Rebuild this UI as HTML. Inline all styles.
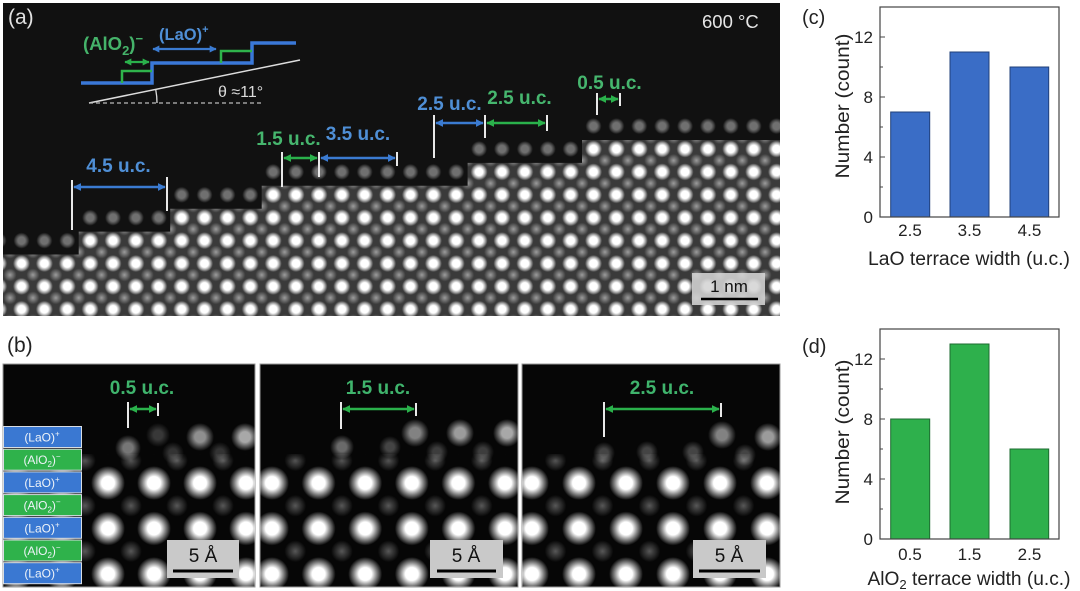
<!DOCTYPE html>
<html><head><meta charset="utf-8"><style>
html,body{margin:0;padding:0;background:#fff;}
svg{display:block;}
text{font-family:"Liberation Sans",Arial,sans-serif;}
</style></head><body>
<svg width="1080" height="591" viewBox="0 0 1080 591" xmlns="http://www.w3.org/2000/svg">
<defs>
  <radialGradient id="gb"><stop offset="0" stop-color="#fff" stop-opacity="1"/><stop offset="0.45" stop-color="#fff" stop-opacity="1"/><stop offset="0.72" stop-color="#fff" stop-opacity="0.55"/><stop offset="1" stop-color="#fff" stop-opacity="0"/></radialGradient>
  <radialGradient id="gd"><stop offset="0" stop-color="#fff" stop-opacity="0.5"/><stop offset="1" stop-color="#fff" stop-opacity="0"/></radialGradient>
  <radialGradient id="gbb"><stop offset="0" stop-color="#fff" stop-opacity="1"/><stop offset="0.38" stop-color="#fff" stop-opacity="1"/><stop offset="0.68" stop-color="#fff" stop-opacity="0.5"/><stop offset="1" stop-color="#fff" stop-opacity="0"/></radialGradient>
  <radialGradient id="gdb"><stop offset="0" stop-color="#fff" stop-opacity="0.33"/><stop offset="1" stop-color="#fff" stop-opacity="0"/></radialGradient>
  <linearGradient id="lgm" x1="0" y1="0" x2="0" y2="1"><stop offset="0" stop-color="#000"/><stop offset="0.027" stop-color="#000"/><stop offset="0.11" stop-color="#fff"/><stop offset="1" stop-color="#fff"/></linearGradient>

  <pattern id="pa" patternUnits="userSpaceOnUse" x="21.5" y="149" width="22.88" height="22.9">
    <rect width="22.88" height="22.9" fill="#3a3a3a"/>
    <circle cx="11.44" cy="11.45" r="6.5" fill="url(#gd)"/>
    <circle cx="0" cy="0" r="8.5" fill="url(#gb)"/>
    <circle cx="22.88" cy="0" r="8.5" fill="url(#gb)"/>
    <circle cx="0" cy="22.9" r="8.5" fill="url(#gb)"/>
    <circle cx="22.88" cy="22.9" r="8.5" fill="url(#gb)"/>
  </pattern>
  <pattern id="pa2" patternUnits="userSpaceOnUse" x="21.5" y="149" width="22.88" height="22.9">
    <circle cx="0" cy="0" r="8" fill="url(#gb)"/>
    <circle cx="22.88" cy="0" r="8" fill="url(#gb)"/>
    <circle cx="0" cy="22.9" r="8" fill="url(#gb)"/>
    <circle cx="22.88" cy="22.9" r="8" fill="url(#gb)"/>
  </pattern>

  <pattern id="pb1" patternUnits="userSpaceOnUse" x="108" y="483" width="46" height="45.5">
    <circle cx="23" cy="22.75" r="11" fill="url(#gdb)"/>
    <circle cx="0" cy="0" r="17" fill="url(#gbb)"/><circle cx="46" cy="0" r="17" fill="url(#gbb)"/>
    <circle cx="0" cy="45.5" r="17" fill="url(#gbb)"/><circle cx="46" cy="45.5" r="17" fill="url(#gbb)"/>
  </pattern>
  <pattern id="pb2" patternUnits="userSpaceOnUse" x="272" y="483" width="46.6" height="45.5">
    <circle cx="23.3" cy="22.75" r="11" fill="url(#gdb)"/>
    <circle cx="0" cy="0" r="17" fill="url(#gbb)"/><circle cx="46.6" cy="0" r="17" fill="url(#gbb)"/>
    <circle cx="0" cy="45.5" r="17" fill="url(#gbb)"/><circle cx="46.6" cy="45.5" r="17" fill="url(#gbb)"/>
  </pattern>
  <pattern id="pb3" patternUnits="userSpaceOnUse" x="532" y="483" width="47" height="45.5">
    <circle cx="23.5" cy="22.75" r="11" fill="url(#gdb)"/>
    <circle cx="0" cy="0" r="17" fill="url(#gbb)"/><circle cx="47" cy="0" r="17" fill="url(#gbb)"/>
    <circle cx="0" cy="45.5" r="17" fill="url(#gbb)"/><circle cx="47" cy="45.5" r="17" fill="url(#gbb)"/>
  </pattern>

  <mask id="mk" maskUnits="userSpaceOnUse" x="0" y="0" width="1080" height="591"><rect x="0" y="445" width="1080" height="146" fill="url(#lgm)"/></mask>

  <clipPath id="ca"><rect x="3" y="3" width="777" height="313"/></clipPath>
  <clipPath id="cb1"><rect x="3" y="364" width="252" height="223"/></clipPath>
  <clipPath id="cb2"><rect x="260" y="364" width="258" height="223"/></clipPath>
  <clipPath id="cb3"><rect x="522" y="364" width="258" height="223"/></clipPath>

  <marker id="mb" viewBox="0 0 10 10" refX="9" refY="5" markerWidth="3.2" markerHeight="3.2" orient="auto-start-reverse"><path d="M0,0 L10,5 L0,10 z" fill="#3b7bd1"/></marker>
  <marker id="mg" viewBox="0 0 10 10" refX="9" refY="5" markerWidth="3.2" markerHeight="3.2" orient="auto-start-reverse"><path d="M0,0 L10,5 L0,10 z" fill="#2ab14b"/></marker>
</defs>

<!-- ===================== Panel (a) ===================== -->
<rect x="3" y="3" width="777" height="313" fill="#111"/>
<g clip-path="url(#ca)">
  <polygon opacity="0.4" fill="url(#pa2)" points="3,316 3,231.6 78.7,231.6 78.7,208.7 170.2,208.7 170.2,185.8 261.7,185.8 261.7,162.9 467.6,162.9 467.6,140 582,140 582,117.1 780,117.1 780,316"/>
  <polygon fill="url(#pa)" points="3,316 3,254.5 78.7,254.5 78.7,231.6 170.2,231.6 170.2,208.7 261.7,208.7 261.7,185.8 467.6,185.8 467.6,162.9 582,162.9 582,140 780,140 780,316"/>
</g>
<text x="8" y="24" font-size="21" fill="#e2e2e2">(a)</text>
<text x="702" y="28" font-size="18.5" fill="#e6e6e6">600 °C</text>

<!-- schematic -->
<path d="M81,83 H152 V63 H252 V43 H296" fill="none" stroke="#3a78d8" stroke-width="3.5"/>
<path d="M122,83 V71 H152" fill="none" stroke="#2fb34b" stroke-width="2.5"/>
<path d="M221,63 V51 H252" fill="none" stroke="#2fb34b" stroke-width="2.5"/>
<line x1="125" y1="62" x2="149" y2="62" stroke="#2ab14b" stroke-width="2.2" marker-start="url(#mg)" marker-end="url(#mg)"/>
<line x1="153" y1="49" x2="216" y2="49" stroke="#3b7bd1" stroke-width="2.2" marker-start="url(#mb)" marker-end="url(#mb)"/>
<text x="83" y="50" font-size="18.5" font-weight="bold" fill="#45b36a">(AlO<tspan dy="5" font-size="13">2</tspan><tspan dy="-5">)</tspan><tspan dy="-7" font-size="13">−</tspan></text>
<text x="159" y="40" font-size="16.5" font-weight="bold" fill="#4f8fd6">(LaO)<tspan dy="-7" font-size="11">+</tspan></text>
<line x1="89" y1="103" x2="300" y2="60" stroke="#ddd" stroke-width="1.5"/>
<line x1="89" y1="103" x2="262" y2="103" stroke="#bbb" stroke-width="1.2" stroke-dasharray="4 3"/>
<path d="M155.8,90 A68,68 0 0 1 157,103" fill="none" stroke="#ddd" stroke-width="1.3"/>
<text x="218" y="97" font-size="16" fill="#dcdcdc">θ ≈11°</text>

<!-- annotations (a) -->
<g stroke="#e8e8e8" stroke-width="2">
  <line x1="72" y1="180" x2="72" y2="230"/>
  <line x1="167" y1="177" x2="167" y2="211"/>
  <line x1="282" y1="152" x2="282" y2="187"/>
  <line x1="319" y1="152" x2="319" y2="177"/>
  <line x1="397" y1="152" x2="397" y2="166"/>
  <line x1="434" y1="115" x2="434" y2="158"/>
  <line x1="485" y1="115" x2="485" y2="138"/>
  <line x1="547" y1="115" x2="547" y2="131"/>
  <line x1="597" y1="93" x2="597" y2="115"/>
  <line x1="620" y1="93" x2="620" y2="106"/>
</g>
<line x1="74" y1="187" x2="165" y2="187" stroke="#3b7bd1" stroke-width="2.5" marker-start="url(#mb)" marker-end="url(#mb)"/>
<line x1="284" y1="158" x2="317" y2="158" stroke="#2ab14b" stroke-width="2.5" marker-start="url(#mg)" marker-end="url(#mg)"/>
<line x1="321" y1="158" x2="395" y2="158" stroke="#3b7bd1" stroke-width="2.5" marker-start="url(#mb)" marker-end="url(#mb)"/>
<line x1="436" y1="123" x2="483" y2="123" stroke="#3b7bd1" stroke-width="2.5" marker-start="url(#mb)" marker-end="url(#mb)"/>
<line x1="487" y1="123" x2="545" y2="123" stroke="#2ab14b" stroke-width="2.5" marker-start="url(#mg)" marker-end="url(#mg)"/>
<line x1="599" y1="99" x2="618" y2="99" stroke="#2ab14b" stroke-width="2.5" marker-start="url(#mg)" marker-end="url(#mg)"/>
<g font-size="19" font-weight="bold" text-anchor="middle">
  <text x="118.5" y="172" fill="#4f8fd6">4.5 u.c.</text>
  <text x="288.5" y="145" fill="#46b66e">1.5 u.c.</text>
  <text x="358" y="140" fill="#4f8fd6">3.5 u.c.</text>
  <text x="449.5" y="110" fill="#4f8fd6">2.5 u.c.</text>
  <text x="519.5" y="104" fill="#46b66e">2.5 u.c.</text>
  <text x="609.5" y="89" fill="#46b66e">0.5 u.c.</text>
</g>
<!-- scale bar (a) -->
<rect x="692" y="273" width="73" height="32" fill="#d4d4d4" opacity="0.88"/>
<text x="729" y="292" font-size="17" text-anchor="middle" fill="#111">1 nm</text>
<line x1="701" y1="299" x2="758" y2="299" stroke="#000" stroke-width="2.5"/>

<!-- ===================== Panel (b) ===================== -->
<text x="7" y="352" font-size="21" fill="#222">(b)</text>

<!-- image 1 -->
<rect x="3" y="364" width="252" height="223" fill="#060606" stroke="#999" stroke-width="1"/>
<g clip-path="url(#cb1)">
  <rect x="3" y="454" width="252" height="133" fill="url(#pb1)" mask="url(#mk)"/>
  <circle cx="128" cy="448" r="13" fill="url(#gbb)" opacity="0.45"/>
  <circle cx="158" cy="435" r="12" fill="url(#gbb)" opacity="0.2"/>
  <circle cx="200" cy="437" r="14" fill="url(#gbb)" opacity="0.55"/>
  <circle cx="245" cy="437" r="14" fill="url(#gbb)" opacity="0.65"/>
  <circle cx="173" cy="453" r="11" fill="url(#gbb)" opacity="0.18"/>
  <circle cx="220" cy="453" r="11" fill="url(#gbb)" opacity="0.18"/>
</g>
<!-- image 2 -->
<rect x="260" y="364" width="258" height="223" fill="#060606" stroke="#999" stroke-width="1"/>
<g clip-path="url(#cb2)">
  <rect x="260" y="454" width="258" height="133" fill="url(#pb2)" mask="url(#mk)"/>
  <circle cx="415" cy="433" r="14" fill="url(#gbb)" opacity="0.5"/>
  <circle cx="460" cy="433" r="14" fill="url(#gbb)" opacity="0.6"/>
  <circle cx="507" cy="433" r="14" fill="url(#gbb)" opacity="0.65"/>
  <circle cx="342" cy="447" r="12" fill="url(#gbb)" opacity="0.4"/>
  <circle cx="390" cy="447" r="11" fill="url(#gbb)" opacity="0.25"/>
  <circle cx="437" cy="452" r="11" fill="url(#gbb)" opacity="0.22"/>
  <circle cx="483" cy="452" r="11" fill="url(#gbb)" opacity="0.22"/>
</g>
<!-- image 3 -->
<rect x="522" y="364" width="258" height="223" fill="#060606" stroke="#999" stroke-width="1"/>
<g clip-path="url(#cb3)">
  <rect x="522" y="454" width="258" height="133" fill="url(#pb3)" mask="url(#mk)"/>
  <circle cx="722" cy="435" r="14" fill="url(#gbb)" opacity="0.5"/>
  <circle cx="768" cy="437" r="14" fill="url(#gbb)" opacity="0.6"/>
  <circle cx="604" cy="453" r="11" fill="url(#gbb)" opacity="0.25"/>
  <circle cx="647" cy="452" r="11" fill="url(#gbb)" opacity="0.25"/>
  <circle cx="693" cy="452" r="11" fill="url(#gbb)" opacity="0.25"/>
  <circle cx="745" cy="455" r="11" fill="url(#gbb)" opacity="0.25"/>
</g>

<!-- layer boxes -->
<g stroke="#d8dde3" stroke-width="1">
  <rect x="3.5" y="426.5" width="78" height="21" fill="#3a78d2"/>
  <rect x="3.5" y="449.2" width="78" height="21" fill="#2fb24b"/>
  <rect x="3.5" y="471.9" width="78" height="21" fill="#3a78d2"/>
  <rect x="3.5" y="494.6" width="78" height="21" fill="#2fb24b"/>
  <rect x="3.5" y="517.3" width="78" height="21" fill="#3a78d2"/>
  <rect x="3.5" y="540" width="78" height="21" fill="#2fb24b"/>
  <rect x="3.5" y="562.7" width="78" height="21" fill="#3a78d2"/>
</g>
<g font-size="12" fill="#eef3f8" text-anchor="middle">
  <text x="42" y="441.5">(LaO)<tspan dy="-5" font-size="8">+</tspan></text>
  <text x="42" y="464.2">(AlO<tspan dy="3" font-size="8">2</tspan><tspan dy="-3">)</tspan><tspan dy="-5" font-size="8">−</tspan></text>
  <text x="42" y="486.9">(LaO)<tspan dy="-5" font-size="8">+</tspan></text>
  <text x="42" y="509.6">(AlO<tspan dy="3" font-size="8">2</tspan><tspan dy="-3">)</tspan><tspan dy="-5" font-size="8">−</tspan></text>
  <text x="42" y="532.3">(LaO)<tspan dy="-5" font-size="8">+</tspan></text>
  <text x="42" y="555">(AlO<tspan dy="3" font-size="8">2</tspan><tspan dy="-3">)</tspan><tspan dy="-5" font-size="8">−</tspan></text>
  <text x="42" y="577.7">(LaO)<tspan dy="-5" font-size="8">+</tspan></text>
</g>

<!-- annotations (b) -->
<g stroke="#e8e8e8" stroke-width="2">
  <line x1="128" y1="402" x2="128" y2="428"/>
  <line x1="158" y1="403" x2="158" y2="416"/>
  <line x1="341" y1="402" x2="341" y2="429"/>
  <line x1="416" y1="403" x2="416" y2="416"/>
  <line x1="604" y1="402" x2="604" y2="437"/>
  <line x1="721" y1="403" x2="721" y2="417"/>
</g>
<line x1="130" y1="409" x2="156" y2="409" stroke="#2ab14b" stroke-width="2.5" marker-start="url(#mg)" marker-end="url(#mg)"/>
<line x1="343" y1="409" x2="414" y2="409" stroke="#2ab14b" stroke-width="2.5" marker-start="url(#mg)" marker-end="url(#mg)"/>
<line x1="606" y1="409" x2="719" y2="409" stroke="#2ab14b" stroke-width="2.5" marker-start="url(#mg)" marker-end="url(#mg)"/>
<g font-size="19" font-weight="bold" text-anchor="middle" fill="#3fb46c">
  <text x="142" y="394">0.5 u.c.</text>
  <text x="378" y="394">1.5 u.c.</text>
  <text x="662" y="394">2.5 u.c.</text>
</g>
<!-- scale bars (b) -->
<g>
  <rect x="167" y="540" width="72" height="38" fill="#c9c9c9"/>
  <rect x="430" y="540" width="73" height="38" fill="#c9c9c9"/>
  <rect x="693" y="540" width="73" height="38" fill="#c9c9c9"/>
  <g font-size="19" fill="#111" text-anchor="middle">
    <text x="203" y="562">5 Å</text>
    <text x="466" y="562">5 Å</text>
    <text x="729" y="562">5 Å</text>
  </g>
  <g stroke="#000" stroke-width="3">
    <line x1="173" y1="571" x2="233" y2="571"/>
    <line x1="437" y1="571" x2="496" y2="571"/>
    <line x1="699" y1="571" x2="760" y2="571"/>
  </g>
</g>

<!-- ===================== Panel (c) ===================== -->
<text x="802" y="24" font-size="20" fill="#222">(c)</text>
<g stroke="#20407a" stroke-width="1" fill="#3a6dc6">
  <rect x="890.7" y="112" width="39" height="105"/>
  <rect x="950" y="52" width="39" height="165"/>
  <rect x="1010" y="67" width="38.7" height="150"/>
</g>
<rect x="880" y="7" width="179" height="210" fill="none" stroke="#444" stroke-width="1.2"/>
<g stroke="#444" stroke-width="1">
  <line x1="880" y1="157" x2="885" y2="157"/><line x1="880" y1="97" x2="885" y2="97"/><line x1="880" y1="37" x2="885" y2="37"/>
  <line x1="880" y1="187" x2="883" y2="187"/><line x1="880" y1="127" x2="883" y2="127"/><line x1="880" y1="67" x2="883" y2="67"/>
</g>
<g font-size="17" fill="#222" text-anchor="end">
  <text x="873" y="223">0</text><text x="873" y="163">4</text><text x="873" y="103">8</text><text x="873" y="43">12</text>
</g>
<g font-size="17" fill="#222" text-anchor="middle">
  <text x="910" y="236">2.5</text><text x="969.5" y="236">3.5</text><text x="1029.5" y="236">4.5</text>
</g>
<text x="969" y="265" font-size="19" fill="#222" text-anchor="middle" textLength="202" lengthAdjust="spacingAndGlyphs">LaO terrace width (u.c.)</text>
<text transform="translate(849,106) rotate(-90)" font-size="19" fill="#222" text-anchor="middle" textLength="145" lengthAdjust="spacingAndGlyphs">Number (count)</text>

<!-- ===================== Panel (d) ===================== -->
<text x="802" y="353" font-size="20" fill="#222">(d)</text>
<g stroke="#1d6b30" stroke-width="1" fill="#2eb04c">
  <rect x="890.7" y="419" width="39" height="120"/>
  <rect x="950" y="344" width="39" height="195"/>
  <rect x="1010" y="449" width="38.7" height="90"/>
</g>
<rect x="880" y="329" width="179" height="210" fill="none" stroke="#444" stroke-width="1.2"/>
<g stroke="#444" stroke-width="1">
  <line x1="880" y1="479" x2="885" y2="479"/><line x1="880" y1="419" x2="885" y2="419"/><line x1="880" y1="359" x2="885" y2="359"/>
  <line x1="880" y1="509" x2="883" y2="509"/><line x1="880" y1="449" x2="883" y2="449"/><line x1="880" y1="389" x2="883" y2="389"/>
</g>
<g font-size="17" fill="#222" text-anchor="end">
  <text x="873" y="545">0</text><text x="873" y="485">4</text><text x="873" y="425">8</text><text x="873" y="365">12</text>
</g>
<g font-size="17" fill="#222" text-anchor="middle">
  <text x="910" y="560">0.5</text><text x="969.5" y="560">1.5</text><text x="1029.5" y="560">2.5</text>
</g>
<text x="969" y="585" font-size="19" fill="#222" text-anchor="middle" textLength="203" lengthAdjust="spacingAndGlyphs">AlO<tspan dy="4" font-size="13">2</tspan><tspan dy="-4"> terrace width (u.c.)</tspan></text>
<text transform="translate(849,432) rotate(-90)" font-size="19" fill="#222" text-anchor="middle" textLength="145" lengthAdjust="spacingAndGlyphs">Number (count)</text>
</svg>
</body></html>
